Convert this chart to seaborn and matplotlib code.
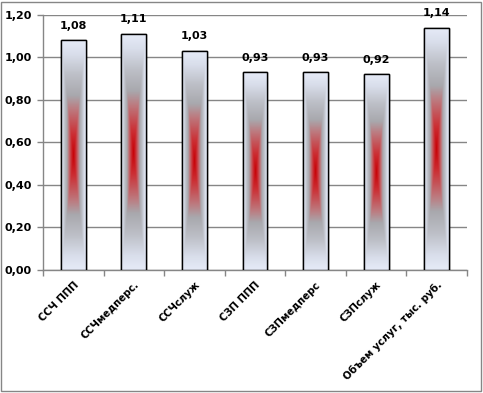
import numpy as np
import pandas as pd
import matplotlib
matplotlib.use("Agg")
import matplotlib.pyplot as plt
import seaborn as sns
from matplotlib.colors import LinearSegmentedColormap

categories = ["ССЧ ППП", "ССЧмедперс.", "ССЧслуж", "СЗП ППП", "СЗПмедперс", "СЗПслуж", "Объем услуг, тыс. руб."]
values = [1.08, 1.11, 1.03, 0.93, 0.93, 0.92, 1.14]
value_labels = ["1,08", "1,11", "1,03", "0,93", "0,93", "0,92", "1,14"]
yticks = [0.0, 0.2, 0.4, 0.6, 0.8, 1.0, 1.2]
ytick_labels = ["0,00", "0,20", "0,40", "0,60", "0,80", "1,00", "1,20"]

sns.set_theme(style="white")
plt.rcParams['font.family'] = ['DejaVu Sans']

df = pd.DataFrame({"cat": categories, "val": values})

fig = plt.figure(figsize=(4.83, 3.93), dpi=100)
ax = fig.add_axes([0.089, 0.313, 0.878, 0.649])

sns.barplot(data=df, x="cat", y="val", ax=ax, width=0.41, color="white",
            edgecolor="black", linewidth=1.0, zorder=3)

# gradient fill: rectangular path gradient from center
cmap = LinearSegmentedColormap.from_list("grad", [
    (0.00, (0.78, 0.00, 0.02)),
    (0.18, (0.80, 0.18, 0.20)),
    (0.40, (0.74, 0.48, 0.50)),
    (0.52, (0.66, 0.66, 0.68)),
    (0.70, (0.74, 0.75, 0.78)),
    (0.88, (0.85, 0.87, 0.92)),
    (1.00, (0.90, 0.92, 0.97)),
])
n = 200
u = np.linspace(-1, 1, 60)
v = np.linspace(-1, 1, n)
U, V = np.meshgrid(u, v)
D = np.maximum(np.abs(U), np.abs(V))
for p in ax.patches:
    x0, y0 = p.get_x(), p.get_y()
    w, h = p.get_width(), p.get_height()
    im = ax.imshow(D, cmap=cmap, vmin=0, vmax=1, extent=[x0, x0 + w, y0, y0 + h],
                   aspect="auto", origin="lower", zorder=3.5, interpolation="bilinear")
    im.set_clip_path(p)
    ax.add_patch(plt.Rectangle((x0, y0), w, h, fill=False, edgecolor="black",
                               linewidth=1.0, zorder=4))

for i, (val, lab) in enumerate(zip(values, value_labels)):
    ax.annotate(lab, (i, val), xytext=(0, 7), textcoords="offset points",
                ha="center", va="bottom", fontsize=8, fontweight="bold", color="black")

ax.set_xlim(-0.5, len(categories) - 0.5)
ax.set_ylim(0, 1.2)
ax.set_yticks(yticks)
ax.set_yticklabels(ytick_labels, fontsize=8, fontweight="bold", color="black")
ax.yaxis.grid(True, color="#868686", linewidth=1.0, zorder=0)
ax.set_axisbelow(True)

ax.set_xticks(range(len(categories)))
ax.set_xticklabels(categories, rotation=45, ha="right", rotation_mode="anchor",
                   fontsize=7.3, fontweight="bold", color="black")
ax.tick_params(axis="x", length=0, pad=7)
ax.set_xticks(np.arange(-0.5, len(categories), 1.0), minor=True)
ax.tick_params(axis="x", which="minor", length=4, color="#868686", width=1, direction="out", bottom=True)
ax.tick_params(axis="y", length=4, color="#868686", width=1, direction="out", left=True, pad=4)

for s in ["top", "right"]:
    ax.spines[s].set_visible(False)
for s in ["left", "bottom"]:
    ax.spines[s].set_color("#868686")
    ax.spines[s].set_linewidth(1.0)

ax.set_xlabel("")
ax.set_ylabel("")

fig.patches.append(plt.Rectangle((0.003, 0.004), 0.993, 0.991, transform=fig.transFigure,
                                 fill=False, edgecolor="#868686", linewidth=1.0))

fig.savefig("out.png", dpi=100)
